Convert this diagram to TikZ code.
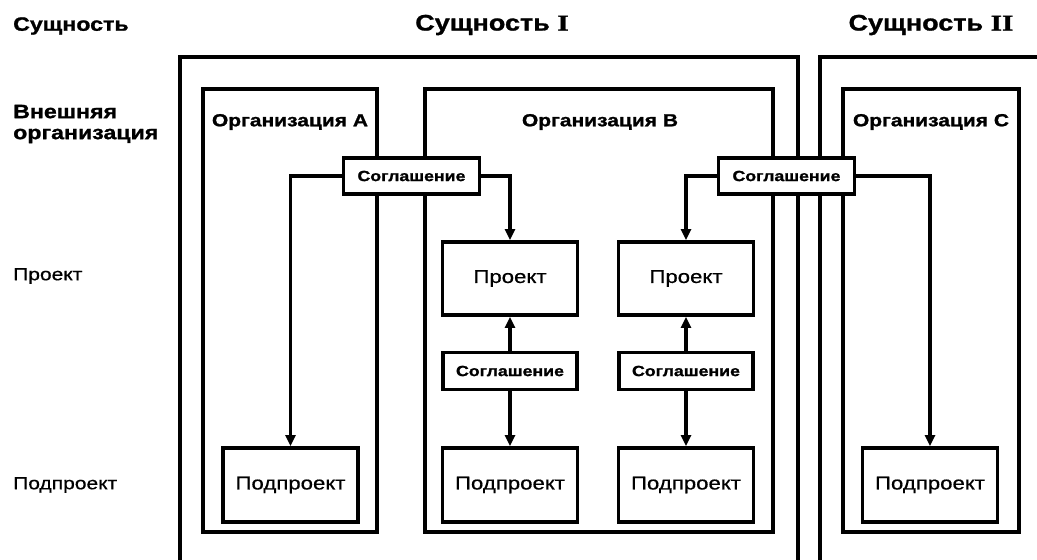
\documentclass[tikz,border=0pt]{standalone}
\usepackage{fontspec}
\setmainfont{Liberation Sans}[FakeStretch=1.2, UprightFeatures={FakeBold=0.6}, BoldFeatures={FakeBold=1.2}]
\newfontfamily\romanb{Liberation Serif}[FakeStretch=1.3, BoldFeatures={FakeBold=1.2}]
\usetikzlibrary{arrows.meta}
\begin{document}
\begin{tikzpicture}[x=1pt,y=-1pt,
  ent/.style={line width=4.5pt},
  orgbox/.style={draw, line width=3.8pt, inner sep=0pt, minimum height=443pt},
  inbox/.style={draw, line width=3.8pt, fill=white, inner sep=0pt, minimum width=135pt,
    font=\fontsize{18.5}{21}\selectfont},
  agr/.style={draw, line width=3.8pt, fill=white, inner sep=0pt, minimum width=136pt,
    font=\bfseries\fontsize{14.8}{17}\selectfont},
  conn/.style={line width=3.4pt, -{Triangle[length=11pt,width=10pt]}},
  sidelab/.style={anchor=west, inner sep=0pt, font=\bfseries\fontsize{19.3}{22}\selectfont, align=left},
  rowlab/.style={anchor=west, inner sep=0pt, font=\fontsize{17.5}{20}\selectfont},
  head/.style={inner sep=0pt, font=\bfseries\fontsize{22.5}{26}\selectfont},
  orglab/.style={inner sep=0pt, font=\bfseries\fontsize{17.5}{20}\selectfont}]
\useasboundingbox (0,0) rectangle (1037,560);
\fill[white] (0,0) rectangle (1037,560);
\clip (0,0) rectangle (1037,560);

% entity frames
\draw[ent] (180,580) -- (180,57) -- (798,57) -- (798,580);
\draw[ent] (820,580) -- (820,57) -- (1050,57);

% headings
\node[sidelab] (hEnt) at (13,26) {Сущность};
\node[head] (hE1) at (492,25) {Сущность {\romanb I}};
\node[head] (hE2) at (931,25) {Сущность {\romanb II}};
\node[sidelab] (hExt) at (13,124) {Внешняя\\[-1pt]организация};
\node[rowlab] (hProj) at (13,276) {Проект};
\node[rowlab] (hSub) at (13,485) {Подпроект};

% organisations
\node[orgbox, minimum width=174pt] (orgA) at (290,310.5) {};
\node[orgbox, minimum width=348pt] (orgB) at (599,310.5) {};
\node[orgbox, minimum width=176pt] (orgC) at (931,310.5) {};
\node[orglab] (lA) at (290,122) {Организация A};
\node[orglab] (lB) at (600,122) {Организация B};
\node[orglab] (lC) at (931,122) {Организация C};

% projects
\node[inbox, minimum height=73pt] (projB) at (510,278.5) {Проект};
\node[inbox, minimum height=73pt] (projC) at (686,278.5) {Проект};
% agreements
\node[agr, minimum height=36pt] (agr1) at (411.5,176) {Соглашение};
\node[agr, minimum height=36pt] (agr2) at (786.5,176) {Соглашение};
\node[agr, minimum width=134pt, minimum height=37pt] (agrB) at (510,371) {Соглашение};
\node[agr, minimum width=134pt, minimum height=37pt] (agrC) at (686,371) {Соглашение};
% subprojects
\node[inbox, minimum height=74pt] (subA) at (290.5,485) {Подпроект};
\node[inbox, minimum height=74pt] (subB) at (510,485) {Подпроект};
\node[inbox, minimum height=74pt] (subBC) at (686,485) {Подпроект};
\node[inbox, minimum height=74pt] (subC) at (930,485) {Подпроект};

% connectors
\draw[conn] (agr1.west) -| (subA.north);
\draw[conn] (agr1.east) -| (projB.north);
\draw[conn] (agr2.west) -| (projC.north);
\draw[conn] (agr2.east) -| (subC.north);
\draw[conn] (agrB.north) -- (projB.south);
\draw[conn] (agrB.south) -- (subB.north);
\draw[conn] (agrC.north) -- (projC.south);
\draw[conn] (agrC.south) -- (subBC.north);
\end{tikzpicture}
\end{document}
